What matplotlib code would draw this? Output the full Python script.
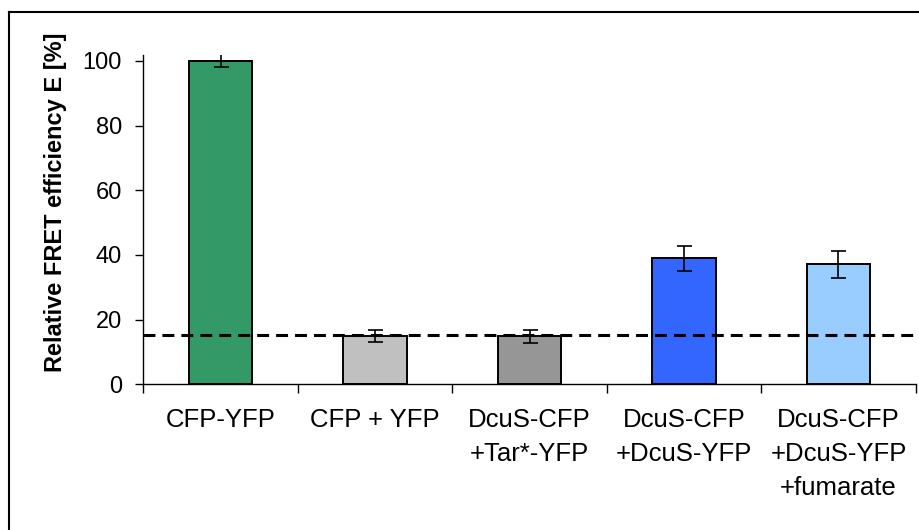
import matplotlib
matplotlib.use("Agg")
import matplotlib.pyplot as plt
from matplotlib.lines import Line2D

# Datos del experimento FRET
categorias = ["CFP-YFP", "CFP + YFP", "DcuS-CFP\n+Tar*-YFP",
              "DcuS-CFP\n+DcuS-YFP", "DcuS-CFP\n+DcuS-YFP\n+fumarate"]
eficiencia = [100, 14.9, 14.8, 38.9, 37.1]
error = [2.0, 1.9, 1.9, 4.0, 4.1]
nivel_fondo = 15.3
colores = ["#339966", "#C0C0C0", "#969696", "#3366FF", "#99CCFF"]
ticks_y = [0, 20, 40, 60, 80, 100]

plt.rcParams["font.family"] = ["Liberation Sans", "DejaVu Sans"]

fig = plt.figure(figsize=(9.2, 5.3), dpi=100)
ax = fig.add_axes([143.3 / 920, 145.7 / 530, (915.7 - 143.3) / 920, (384.3 - 55) / 530])

x = range(len(categorias))
ax.bar(x, eficiencia, width=0.41, color=colores, edgecolor="black", linewidth=1.4, zorder=2)
ax.errorbar(x, eficiencia, yerr=error, fmt="none", ecolor="black", elinewidth=1.2,
            capsize=5.4, capthick=1.2, zorder=3)

# Línea de referencia (FRET inespecífico)
ax.axhline(nivel_fondo, color="black", linewidth=2.2, linestyle=(0, (3.9, 2.3)), zorder=4)

ax.set_xlim(-0.5, len(categorias) - 0.5)
ax.set_ylim(0, 101.8)
ax.set_yticks(ticks_y)
ax.tick_params(axis="y", labelsize=17, length=6, width=1, direction="out", pad=9.5)

# Marcas del eje x entre categorías, etiquetas centradas en cada barra
ax.set_xticks([i - 0.5 for i in range(len(categorias) + 1)])
ax.set_xticklabels([])
ax.set_xticks(list(x), minor=True)
ax.set_xticklabels(categorias, minor=True, fontsize=18.5, linespacing=1.52)
ax.tick_params(axis="x", which="major", length=6.5, width=1, direction="out")
ax.tick_params(axis="x", which="minor", length=0, pad=17)

ax.spines["top"].set_visible(False)
ax.spines["right"].set_visible(False)
for s in ("left", "bottom"):
    ax.spines[s].set_linewidth(1)

ax.set_ylabel("Relative FRET efficiency E [%]", fontsize=17, fontweight="bold")
ax.yaxis.set_label_coords(-0.099, 0.554)

# Marco exterior del gráfico
fig.add_artist(Line2D([9 / 920, 9 / 920], [0, 1 - 12 / 530], color="black", lw=1.5,
                      transform=fig.transFigure))
fig.add_artist(Line2D([9 / 920, 1], [1 - 12 / 530, 1 - 12 / 530], color="black", lw=1.5,
                      transform=fig.transFigure))

fig.savefig("out.png", dpi=100)
